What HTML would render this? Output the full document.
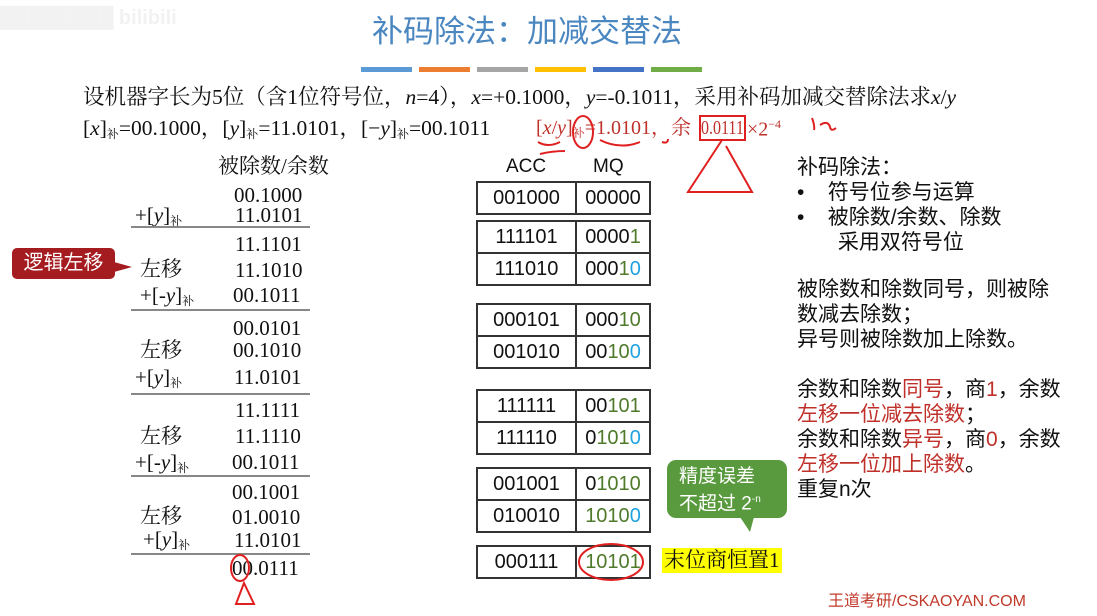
<!DOCTYPE html>
<html><head><meta charset="utf-8"><style>
body{margin:0;width:1097px;height:616px;background:#fff;position:relative;overflow:hidden;font-family:"Liberation Serif","Noto Serif CJK SC",serif;color:#111}
.a{position:absolute;white-space:nowrap;line-height:1}
.s{font-family:"Liberation Sans","Noto Sans CJK SC",sans-serif}
.n{font-size:21px}
.sub{font-size:12px;vertical-align:-3px}
.hl{position:absolute;height:1.5px;background:#888;left:131px;width:179px}
table{position:absolute;border-collapse:collapse;left:476px;font-family:"Liberation Sans","DejaVu Sans",sans-serif;font-size:20px}
td{border:2px solid #333;height:30px;text-align:center;padding:0}
td.a1{width:97px}td.a2{width:72px}
.g{color:#4f7a2a}.b{color:#1fa3e0}
.r{color:#c0302a}
.rt{position:absolute;left:797px;font-size:21px;font-family:"Liberation Sans","Noto Sans CJK SC",sans-serif;line-height:25px;white-space:nowrap}
</style></head><body>
<div class="a s" style="left:0;top:8px;font-size:20px;color:#f2f2f2;font-weight:bold">████████ bilibili</div>
<div class="a s" style="left:372px;top:16px;font-size:31px;color:#4a86c0">补码除法：加减交替法</div>
<div class="a" style="left:361px;top:67px;width:51px;height:5px;background:#5b9bd5"></div>
<div class="a" style="left:419px;top:67px;width:51px;height:5px;background:#ed7d31"></div>
<div class="a" style="left:477px;top:67px;width:51px;height:5px;background:#a5a5a5"></div>
<div class="a" style="left:535px;top:67px;width:51px;height:5px;background:#ffc000"></div>
<div class="a" style="left:593px;top:67px;width:51px;height:5px;background:#4472c4"></div>
<div class="a" style="left:651px;top:67px;width:51px;height:5px;background:#70ad47"></div>

<div class="a" style="left:83px;top:87px;font-size:21.5px">设机器字长为5位（含1位符号位，<i>n</i>=4），<i>x</i>=+0.1000，<i>y</i>=-0.1011，采用补码加减交替除法求<i>x</i>/<i>y</i></div>
<div class="a" style="left:83px;top:118px;font-size:21.5px">[<i>x</i>]<span class="sub">补</span>=00.1000，[<i>y</i>]<span class="sub">补</span>=11.0101，[−<i>y</i>]<span class="sub">补</span>=00.1011</div>
<div class="a r" style="left:536px;top:118px;font-size:20px">[<i>x</i>/<i>y</i>]<span class="sub">补</span>=1.0101，余</div>
<div class="a r" style="left:701px;top:118px;font-size:20px;transform:scaleX(0.8);transform-origin:left">0.0111</div>
<div class="a r" style="left:747px;top:118px;font-size:20px">×2<sup style="font-size:12px">−4</sup></div>

<div class="a" style="left:218px;top:156px;font-size:21px">被除数/余数</div>
<div class="a n" style="left:234px;top:185px">00.1000</div>
<div class="a n" style="left:135px;top:205px">+[<i>y</i>]<span class="sub">补</span></div>
<div class="a n" style="left:235px;top:205px">11.0101</div>
<div class="hl" style="top:226px"></div>
<div class="a n" style="left:235px;top:234px">11.1101</div>
<div class="a n" style="left:140px;top:259px">左移</div>
<div class="a n" style="left:235px;top:260px">11.1010</div>
<div class="a n" style="left:140px;top:285px">+[-<i>y</i>]<span class="sub">补</span></div>
<div class="a n" style="left:233px;top:285px">00.1011</div>
<div class="hl" style="top:309px"></div>
<div class="a n" style="left:233px;top:318px">00.0101</div>
<div class="a n" style="left:140px;top:340px">左移</div>
<div class="a n" style="left:233px;top:340px">00.1010</div>
<div class="a n" style="left:135px;top:367px">+[<i>y</i>]<span class="sub">补</span></div>
<div class="a n" style="left:234px;top:367px">11.0101</div>
<div class="hl" style="top:393px"></div>
<div class="a n" style="left:235px;top:400px">11.1111</div>
<div class="a n" style="left:140px;top:426px">左移</div>
<div class="a n" style="left:235px;top:426px">11.1110</div>
<div class="a n" style="left:135px;top:452px">+[-<i>y</i>]<span class="sub">补</span></div>
<div class="a n" style="left:232px;top:452px">00.1011</div>
<div class="hl" style="top:475px"></div>
<div class="a n" style="left:232px;top:482px">00.1001</div>
<div class="a n" style="left:140px;top:506px">左移</div>
<div class="a n" style="left:232px;top:507px">01.0010</div>
<div class="a n" style="left:143px;top:529px">+[<i>y</i>]<span class="sub">补</span></div>
<div class="a n" style="left:234px;top:530px">11.0101</div>
<div class="hl" style="top:553px"></div>
<div class="a n" style="left:232px;top:558px">00.0111</div>

<div class="a s" style="left:12px;top:248px;width:103px;height:31px;background:#a51c20;border-radius:5px;color:#fff;font-size:20px;line-height:31px;text-align:center">逻辑左移</div>
<div class="a" style="left:114px;top:262px;width:0;height:0;border-left:18px solid #a51c20;border-top:5px solid transparent;border-bottom:5px solid transparent"></div>

<div class="a s" style="left:506px;top:157px;font-size:19px">ACC</div>
<div class="a s" style="left:593px;top:157px;font-size:19px">MQ</div>
<table style="top:181px"><tr><td class="a1">001000</td><td class="a2">00000</td></tr></table>
<table style="top:220px"><tr><td class="a1">111101</td><td class="a2">0000<span class="g">1</span></td></tr><tr><td class="a1">111010</td><td class="a2">000<span class="g">1</span><span class="b">0</span></td></tr></table>
<table style="top:303px"><tr><td class="a1">000101</td><td class="a2">000<span class="g">10</span></td></tr><tr><td class="a1">001010</td><td class="a2">00<span class="g">10</span><span class="b">0</span></td></tr></table>
<table style="top:389px"><tr><td class="a1">111111</td><td class="a2">00<span class="g">101</span></td></tr><tr><td class="a1">111110</td><td class="a2">0<span class="g">101</span><span class="b">0</span></td></tr></table>
<table style="top:467px"><tr><td class="a1">001001</td><td class="a2">0<span class="g">1010</span></td></tr><tr><td class="a1">010010</td><td class="a2"><span class="g">1010</span><span class="b">0</span></td></tr></table>
<table style="top:545px"><tr><td class="a1">000111</td><td class="a2"><span class="g">10101</span></td></tr></table>

<div class="a s" style="left:667px;top:460px;width:120px;height:58px;background:#5a9a3e;border-radius:9px;color:#fff;font-size:19px;line-height:23px;padding:5px 0 0 12px;box-sizing:border-box">精度误差<br>不超过 2<sup style="font-size:10px">-n</sup></div>
<div class="a" style="left:740px;top:517px;width:0;height:0;border-top:15px solid #5a9a3e;border-left:10px solid transparent;border-right:4px solid transparent"></div>
<div class="a" style="left:662px;top:548px;background:#ffff00;font-size:21px;padding:2px 2px">末位商恒置1</div>

<div class="rt" style="top:155px">补码除法：<br>•&nbsp;&nbsp;&nbsp; 符号位参与运算<br>•&nbsp;&nbsp;&nbsp; 被除数/余数、除数<br>&nbsp;&nbsp;&nbsp;&nbsp;&nbsp;&nbsp; 采用双符号位</div>
<div class="rt" style="top:277px">被除数和除数同号，则被除<br>数减去除数；<br>异号则被除数加上除数。</div>
<div class="rt" style="top:377px">余数和除数<span class="r">同号</span>，商<span class="r">1</span>，余数<br><span class="r">左移一位减去除数</span>；<br>余数和除数<span class="r">异号</span>，商<span class="r">0</span>，余数<br><span class="r">左移一位加上除数</span>。<br>重复n次</div>
<div class="a s" style="left:828px;top:594px;font-size:16px;color:#c0392b">王道考研/CSKAOYAN.COM</div>

<svg class="a" style="left:0;top:0" width="1097" height="616" fill="none" stroke="#e02020" stroke-width="2">
<ellipse cx="583" cy="132" rx="10" ry="16"/>
<path d="M538 142 q10 6 22 0 M540 154 q12 -3 25 -3"/>
<path d="M600 140 q20 10 40 2 M662 142 q6 2 6 -3"/>
<rect x="700" y="116" width="45" height="24"/>
<path d="M722 140 L688 192 L752 192 L726 146"/>
<path d="M812 118 q3 8 2 12 M820 125 q8 -5 10 2 q1 5 6 1"/>
<ellipse cx="611" cy="562" rx="32" ry="18"/>
<ellipse cx="240" cy="568" rx="9" ry="13"/>
<path d="M244 583 L236 604 L254 604 Z"/>
</svg>
</body></html>
